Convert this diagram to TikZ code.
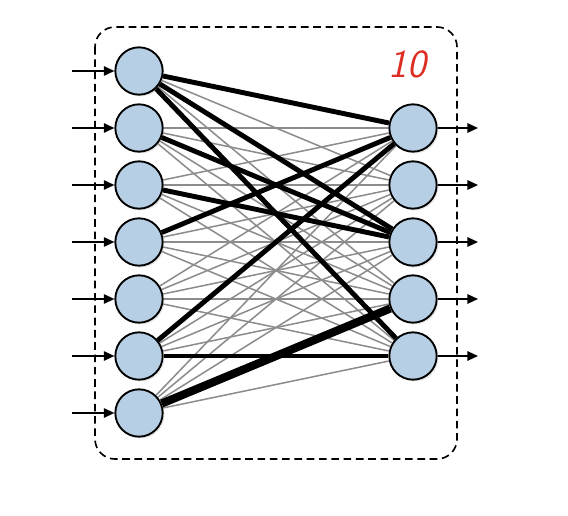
\documentclass[tikz,border=0pt]{standalone}
\usetikzlibrary{arrows.meta, shadows}
\definecolor{unitblue}{RGB}{183,207,229}
\definecolor{handred}{RGB}{222,45,35}

\begin{document}
\begin{tikzpicture}[x=0.03cm, y=-0.03cm,
    unit/.style={circle, draw, line width=1.6pt, fill=unitblue, minimum size=1.42cm, inner sep=0pt,
      drop shadow={opacity=0.2, shadow xshift=1.5pt, shadow yshift=-1.5pt}},
    weak/.style={draw=black!45, line width=1.3pt},
    strong/.style={line width=4.2pt},
    io/.style={-{Triangle[length=9pt, width=8pt]}, line width=1.4pt}]
    \useasboundingbox (0,0) rectangle (568,516);

    % Caixa tracejada
    \draw[line width=1.4pt, dash pattern=on 6.5pt off 4pt, rounded corners=0.6cm] (95,27) rectangle (457,459);

    % Unidades de entrada e de saida
    \foreach \i/\y in {1/71, 2/128, 3/185, 4/242, 5/299, 6/356, 7/413} {
        \node[unit] (in\i) at (139,\y) {};
        \coordinate (src\i) at (72,\y);
    }
    \foreach \j/\y in {1/128, 2/185, 3/242, 4/299, 5/356} {
        \node[unit] (out\j) at (413,\y) {};
        \coordinate (dst\j) at (478,\y);
    }

    % Ligacoes fracas (cinzentas)
    \foreach \i in {1,...,7}
        \foreach \j in {1,...,5}
            \draw[weak] (in\i) -- (out\j);

    % Ligacoes fortes
    \draw[strong] (in1) -- (out1);
    \draw[strong] (in1) -- (out3);
    \draw[strong] (in1) -- (out5);
    \draw[strong] (in2) -- (out3);
    \draw[strong] (in3) -- (out3);
    \draw[strong] (in4) -- (out1);
    \draw[strong] (in6) -- (out1);
    \draw[strong] (in6) -- (out5);
    \draw[line width=7pt] (in7) -- (out4);

    % Setas de entrada e de saida
    \foreach \i in {1,...,7}
        \draw[io] (src\i) -- (in\i);
    \foreach \j in {1,...,5}
        \draw[io] (out\j) -- (dst\j);

    % Anotacao a vermelho
    \node[handred, font=\fontsize{34}{34}\selectfont\sffamily\slshape] (note) at (407,64) {10};
\end{tikzpicture}
\end{document}
